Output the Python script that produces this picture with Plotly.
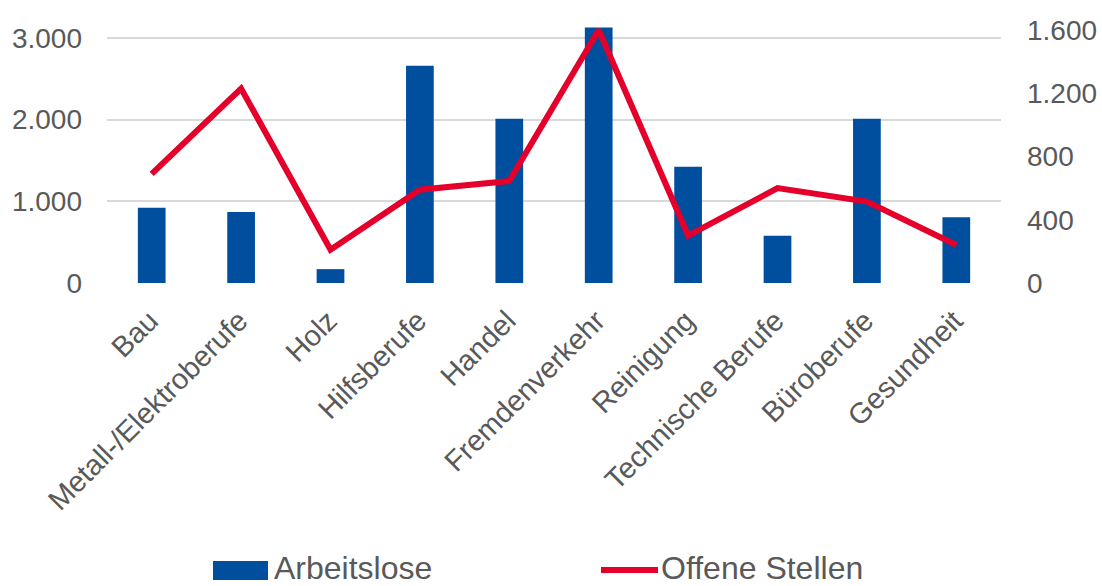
import plotly.graph_objects as go

# Occupational groups with unemployed persons (bars, left axis)
# and open vacancies (line, right axis)
categories = [
    "Bau", "Metall-/Elektroberufe", "Holz", "Hilfsberufe", "Handel",
    "Fremdenverkehr", "Reinigung", "Technische Berufe", "Büroberufe", "Gesundheit",
]
arbeitslose = [920, 870, 170, 2660, 2010, 3130, 1425, 580, 2010, 805]
offene_stellen = [690, 1230, 210, 590, 645, 1600, 300, 600, 515, 240]

left_ticks = [0, 1000, 2000, 3000]
right_ticks = [0, 400, 800, 1200, 1600]

BLUE = "#004F9F"
RED = "#E4002B"
GREY_TEXT = "#595959"
GRID = "#D9D9D9"
FONT = "Liberation Sans, Arial, sans-serif"

fig = go.Figure()
fig.add_trace(go.Bar(
    x=categories, y=arbeitslose, name="Arbeitslose",
    marker=dict(color=BLUE, line=dict(width=0)), width=0.31, yaxis="y",
))
fig.add_trace(go.Scatter(
    x=categories, y=offene_stellen, name="Offene Stellen", mode="lines",
    line=dict(color=RED, width=6), yaxis="y2",
))

fig.update_layout(
    width=1102, height=586,
    margin=dict(l=107, r=101, t=27, b=303),
    paper_bgcolor="white", plot_bgcolor="white",
    separators=",.",
    showlegend=False,
    font=dict(family=FONT, color=GREY_TEXT, size=28),
    xaxis=dict(
        tickangle=-45, tickfont=dict(size=29, color=GREY_TEXT),
        showgrid=False, showline=False, ticks="", zeroline=False,
        ticklabelshift=-2, ticklabelstandoff=14, automargin=False,
    ),
    yaxis=dict(
        range=[0, 3135], tickvals=left_ticks, tickformat=",d",
        showgrid=True, gridcolor=GRID, gridwidth=1.5,
        zeroline=False, showline=False, ticks="",
        tickfont=dict(size=28, color=GREY_TEXT), ticklabelstandoff=24,
        automargin=False,
    ),
    yaxis2=dict(
        range=[0, 1619], tickvals=right_ticks, tickformat=",d",
        overlaying="y", side="right", showgrid=False,
        zeroline=False, showline=False, ticks="",
        tickfont=dict(size=28, color=GREY_TEXT), ticklabelstandoff=25,
        automargin=False,
    ),
)

# Legend drawn beneath the axis labels
legend_y = (283 - 568) / 256
fig.add_shape(type="rect", xref="paper", yref="paper",
              x0=(213 - 107) / 894, x1=(268 - 107) / 894,
              y0=(283 - 580) / 256, y1=(283 - 561) / 256,
              fillcolor=BLUE, line=dict(width=0))
fig.add_annotation(text="Arbeitslose", xref="paper", yref="paper",
                   x=(272 - 107) / 894, y=legend_y,
                   xanchor="left", yanchor="middle", showarrow=False,
                   font=dict(size=32, color=GREY_TEXT, family=FONT))
fig.add_shape(type="line", xref="paper", yref="paper",
              x0=(601 - 107) / 894, x1=(658 - 107) / 894,
              y0=(283 - 570) / 256, y1=(283 - 570) / 256,
              line=dict(color=RED, width=6))
fig.add_annotation(text="Offene Stellen", xref="paper", yref="paper",
                   x=(659 - 107) / 894, y=legend_y,
                   xanchor="left", yanchor="middle", showarrow=False,
                   font=dict(size=32, color=GREY_TEXT, family=FONT))

fig.write_html("out.html")
